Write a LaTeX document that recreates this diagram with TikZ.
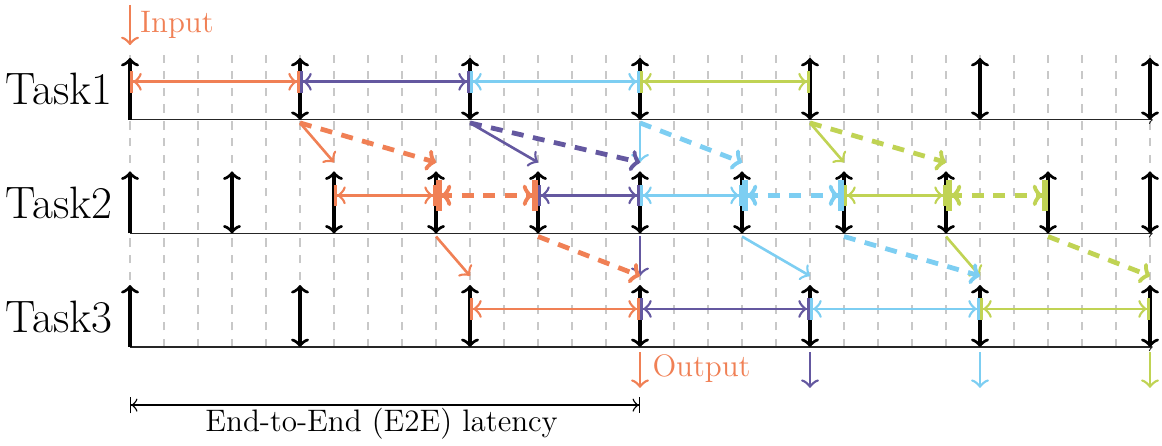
\documentclass[tikz,border=0pt]{standalone}
\usepackage{xcolor}
\usepackage{tikz}
\usetikzlibrary{arrows.meta,calc}
\definecolor{coral}{RGB}{240,128,85}
\definecolor{iris}{RGB}{100,88,160}
\definecolor{skyblue}{RGB}{125,206,242}
\definecolor{pear}{RGB}{192,211,84}
\definecolor{gridgray}{RGB}{200,200,200}

\begin{document}
\begin{tikzpicture}[x=0.5cm, y=0.5cm,
        grid/.style={gridgray, dash pattern=on 3.5pt off 3.5pt, line width=0.6pt},
        axis/.style={black!85, line width=0.5pt, -{Classical TikZ Rightarrow[length=1.6pt,width=3.5pt]}},
        release/.style={line width=1.4pt, {Classical TikZ Rightarrow[length=3.5pt,width=7.5pt]}-{Classical TikZ Rightarrow[length=3.5pt,width=7.5pt]}},
        first/.style={line width=1.4pt, -{Classical TikZ Rightarrow[length=3.5pt,width=7.5pt]}},
        job/.style={line width=1.1pt, {Bar[width=9pt,line width=1.4pt]Classical TikZ Rightarrow[length=3.5pt,width=7.5pt]}-{Classical TikZ Rightarrow[length=3.5pt,width=7.5pt]Bar[width=9pt,line width=1.4pt]}},
        jobd/.style={line width=2pt, dash pattern=on 5pt off 4pt, {Bar[width=13pt,line width=2.4pt]Classical TikZ Rightarrow[length=4pt,width=9pt]}-{Classical TikZ Rightarrow[length=4pt,width=9pt]Bar[width=13pt,line width=2.4pt]}},
        prop/.style={line width=1.1pt, -{Classical TikZ Rightarrow[length=3.5pt,width=7.5pt]}},
        propd/.style={line width=2pt, dash pattern=on 5pt off 4pt, -{Classical TikZ Rightarrow[length=4pt,width=9pt]}},
        e2e/.style={line width=0.6pt, {Bar[width=7pt]Classical TikZ Rightarrow[length=2.5pt,width=5.5pt]}-{Classical TikZ Rightarrow[length=2.5pt,width=5.5pt]Bar[width=7pt]}}]

        \useasboundingbox (-3.824,-2.912) rectangle (30.353,10.206);

        \def\ya{6.68}
        \def\yb{3.34}
        \def\yc{0}

        % grid
        \foreach \t in {0,...,30}
            \draw[grid] (\t,\yc) -- (\t,8.6);

        % task rows
        \node[anchor=base east, inner sep=0, font=\fontsize{19}{22}\selectfont] (task1) at (-0.5,\ya+0.44) {Task1};
        \node[anchor=base east, inner sep=0, font=\fontsize{19}{22}\selectfont] (task2) at (-0.5,\yb+0.44) {Task2};
        \node[anchor=base east, inner sep=0, font=\fontsize{19}{22}\selectfont] (task3) at (-0.5,\yc+0.44) {Task3};

        \foreach \y in {\ya,\yb,\yc} {
            \draw[axis] (0,\y) -- (30.08,\y);
            \draw[first] (0,\y) -- ++(0,1.82);
        }

        % releases
        \foreach \t in {5,10,...,30} {
            \draw[release] (\t,\ya) -- ++(0,1.82);
            \draw[release] (\t,\yc) -- ++(0,1.82);
        }
        \foreach \t in {3,6,...,30}
            \draw[release] (\t,\yb) -- ++(0,1.82);

        % jobs of task1
        \draw[job, coral] (0,\ya+1.12) -- (5,\ya+1.12);
        \draw[job, iris] (5,\ya+1.12) -- (10,\ya+1.12);
        \draw[job, skyblue] (10,\ya+1.12) -- (15,\ya+1.12);
        \draw[job, pear] (15,\ya+1.12) -- (20,\ya+1.12);

        % jobs of task2
        \draw[job, coral] (6,\yb+1.12) -- (9,\yb+1.12);
        \draw[jobd, coral] (9,\yb+1.12) -- (12,\yb+1.12);
        \draw[job, iris] (12,\yb+1.12) -- (15,\yb+1.12);
        \draw[job, skyblue] (15,\yb+1.12) -- (18,\yb+1.12);
        \draw[jobd, skyblue] (18,\yb+1.12) -- (21,\yb+1.12);
        \draw[job, pear] (21,\yb+1.12) -- (24,\yb+1.12);
        \draw[jobd, pear] (24,\yb+1.12) -- (27,\yb+1.12);

        % jobs of task3
        \draw[job, coral] (10,\yc+1.12) -- (15,\yc+1.12);
        \draw[job, iris] (15,\yc+1.12) -- (20,\yc+1.12);
        \draw[job, skyblue] (20,\yc+1.12) -- (25,\yc+1.12);
        \draw[job, pear] (25,\yc+1.12) -- (30,\yc+1.12);

        % task1 -> task2
        \foreach \s/\e/\c in {5/6/coral, 10/12/iris, 15/15/skyblue, 20/21/pear}
            \draw[prop, \c] (\s,\ya-0.09) -- (\e,\yb+2.09);
        \foreach \s/\e/\c in {5/9/coral, 10/15/iris, 15/18/skyblue, 20/24/pear}
            \draw[propd, \c] (\s,\ya-0.09) -- (\e,\yb+2.09);

        % task2 -> task3
        \foreach \s/\e/\c in {9/10/coral, 15/15/iris, 18/20/skyblue, 24/25/pear}
            \draw[prop, \c] (\s,\yb-0.09) -- (\e,\yc+2.09);
        \foreach \s/\e/\c in {12/15/coral, 21/25/skyblue, 27/30/pear}
            \draw[propd, \c] (\s,\yb-0.09) -- (\e,\yc+2.09);

        % input / outputs
        \draw[prop, coral] (0,10.06) -- (0,8.88);
        \node[anchor=base west, text=coral, font=\fontsize{13}{15}\selectfont] (input) at (0.05,9.24) {Input};
        \foreach \t/\c in {15/coral, 20/iris, 25/skyblue, 30/pear}
            \draw[prop, \c] (\t,-0.15) -- (\t,-1.2);
        \node[anchor=base west, text=coral, font=\fontsize{13}{15}\selectfont] (output) at (15.12,-0.88) {Output};

        % latency
        \coordinate (e2eA) at (0,-1.71);
        \coordinate (e2eB) at (15,-1.71);
        \draw[e2e] (e2eA) -- (e2eB);
        \node[anchor=base, font=\fontsize{13}{15}\selectfont] (e2e) at (7.4,-2.5) {End-to-End (E2E) latency};

    \end{tikzpicture}
\end{document}
